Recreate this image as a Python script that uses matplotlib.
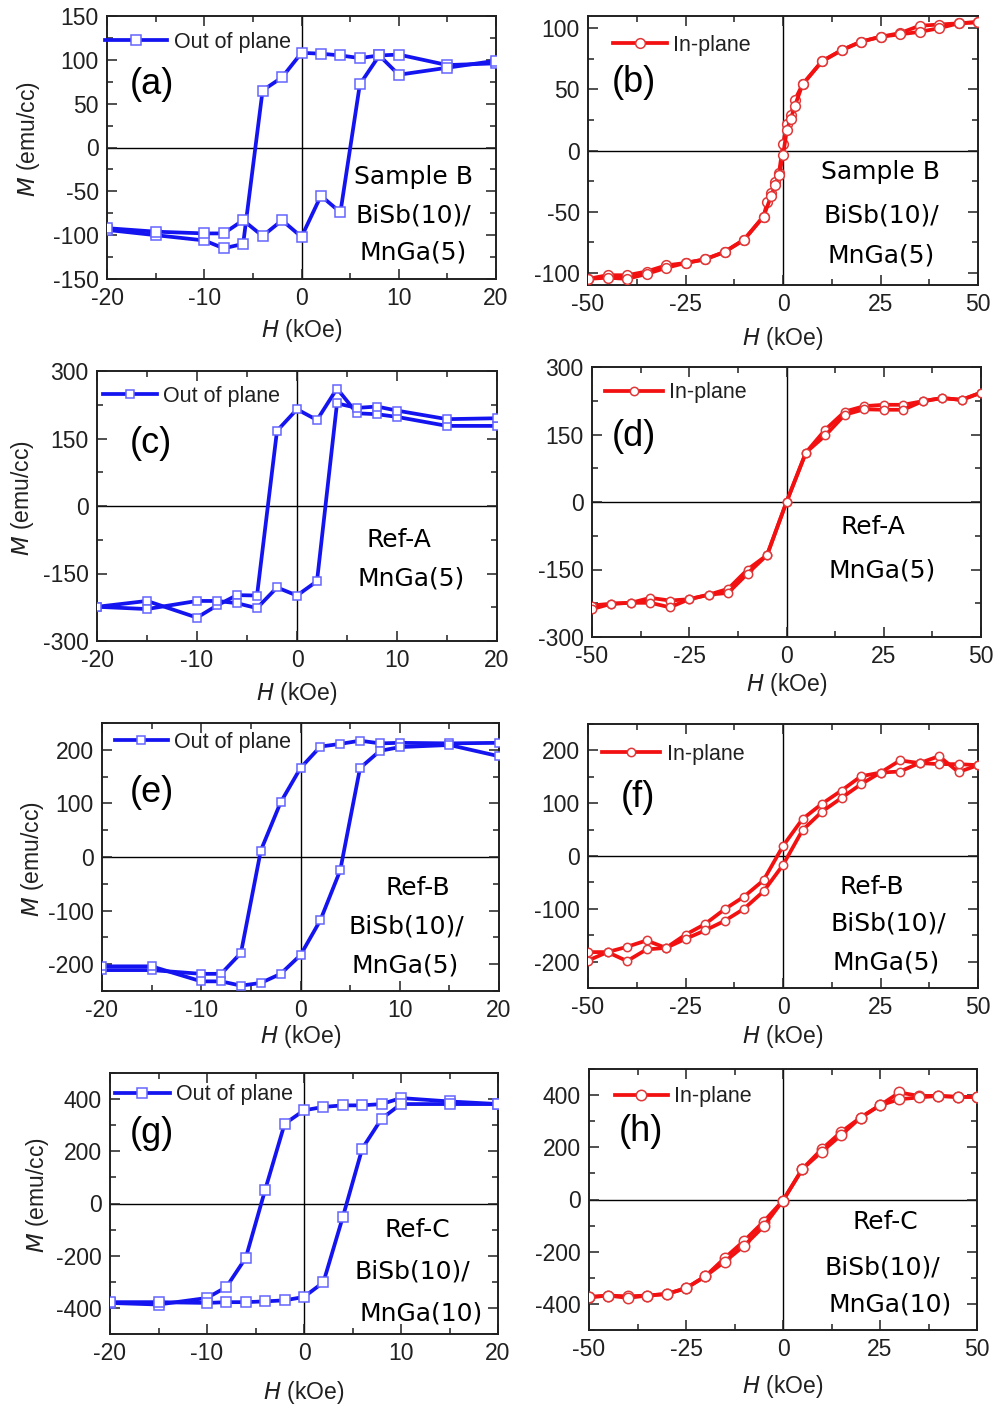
import matplotlib
matplotlib.use("Agg")
import matplotlib.pyplot as plt
from matplotlib.ticker import MultipleLocator

# ---------------- data ----------------
# (a) Sample B, out of plane
Ha_down = [20, 15, 10, 8, 6, 4, 2, 0, -2, -4, -6, -8, -10, -15, -20]
Ma_down = [96, 94, 106, 105, 102, 105, 107, 108, 80, 65, -110, -115, -106, -100, -94]
Ha_up = [-20, -15, -10, -8, -6, -4, -2, 0, 2, 4, 6, 8, 10, 15, 20]
Ma_up = [-92, -96, -98, -98, -83, -101, -83, -102, -55, -74, 72, 105, 83, 91, 99]

# (b) Sample B, in-plane
Hb_down = [50, 45, 40, 35, 30, 25, 20, 15, 10, 5, 3, 2, 1, 0, -1, -2, -3, -4, -5,
           -10, -15, -20, -25, -30, -35, -40, -45, -50]
Mb_down = [105, 104, 103, 102, 96, 93, 89, 82, 73, 54, 41, 29, 22, 5, -18, -26, -35, -42, -54,
           -73, -83, -89, -92, -94, -99, -102, -102, -105]
Hb_up = [-50, -45, -40, -35, -30, -25, -20, -15, -10, -5, -3, -2, -1, 0, 1, 2, 3, 5,
         10, 15, 20, 25, 30, 35, 40, 45, 50]
Mb_up = [-105, -104, -105, -101, -96, -92, -89, -83, -73, -54, -37, -28, -20, -4, 17, 26, 36, 54,
         73, 82, 89, 93, 95, 97, 100, 104, 105]

# (c) Ref-A, out of plane
Hc_down = [20, 15, 10, 8, 6, 4, 2, 0, -2, -4, -6, -8, -10, -15, -20]
Mc_down = [178, 178, 198, 204, 206, 261, 191, 215, 167, -199, -198, -221, -248, -211, -224]
Hc_up = [-20, -15, -10, -8, -6, -4, -2, 0, 2, 4, 6, 8, 10, 15, 20]
Mc_up = [-224, -229, -211, -211, -216, -227, -181, -199, -167, 228, 218, 221, 212, 193, 195]

# (d) Ref-A, in-plane
Hd_down = [50, 45, 40, 35, 30, 25, 20, 15, 10, 5, 0, -5, -10, -15, -20, -25, -30, -35, -40, -45, -50]
Md_down = [243, 227, 231, 224, 216, 216, 213, 201, 161, 110, 0, -118, -150, -193, -206, -216,
           -219, -213, -224, -226, -230]
Hd_up = [-50, -45, -40, -35, -30, -25, -20, -15, -10, -5, 0, 5, 10, 15, 20, 25, 30, 35, 40, 45, 50]
Md_up = [-238, -226, -224, -224, -234, -216, -206, -202, -159, -118, 0, 110, 148, 194, 206, 205,
         205, 224, 231, 227, 243]

# (e) Ref-B, out of plane
He_down = [20, 15, 10, 8, 6, 4, 2, 0, -2, -4, -6, -8, -10, -15, -20]
Me_down = [213, 212, 213, 212, 217, 211, 206, 166, 102, 12, -179, -218, -218, -211, -211]
He_up = [-20, -15, -10, -8, -6, -4, -2, 0, 2, 4, 6, 8, 10, 15, 20]
Me_up = [-204, -204, -232, -232, -240, -235, -218, -183, -118, -25, 166, 198, 205, 209, 188]

# (f) Ref-B, in-plane
Hf_down = [50, 45, 40, 35, 30, 25, 20, 15, 10, 5, 0, -5, -10, -15, -20, -25, -30, -35, -40, -45, -50]
Mf_down = [172, 159, 189, 176, 160, 158, 151, 124, 99, 70, 19, -46, -77, -101, -129, -149,
           -174, -160, -172, -182, -198]
Hf_up = [-50, -45, -40, -35, -30, -25, -20, -15, -10, -5, 0, 5, 10, 15, 20, 25, 30, 35, 40, 45, 50]
Mf_up = [-182, -182, -199, -177, -174, -157, -141, -123, -100, -67, -17, 49, 84, 110, 136, 158,
         181, 176, 174, 174, 172]

# (g) Ref-C, out of plane
Hg_down = [20, 15, 10, 8, 6, 4, 2, 0, -2, -4, -6, -8, -10, -15, -20]
Mg_down = [381, 391, 404, 381, 376, 376, 370, 357, 305, 53, -208, -320, -362, -387, -381]
Hg_up = [-20, -15, -10, -8, -6, -4, -2, 0, 2, 4, 6, 8, 10, 15, 20]
Mg_up = [-378, -378, -381, -378, -378, -375, -371, -358, -302, -52, 210, 325, 381, 381, 381]

# (h) Ref-C, in-plane
Hh_down = [50, 45, 40, 35, 30, 25, 20, 15, 10, 5, 0, -5, -10, -15, -20, -25, -30, -35, -40, -45, -50]
Mh_down = [393, 393, 397, 397, 410, 361, 314, 259, 193, 117, -4, -85, -158, -224, -294, -340,
           -362, -368, -371, -368, -374]
Hh_up = [-50, -45, -40, -35, -30, -25, -20, -15, -10, -5, 0, 5, 10, 15, 20, 25, 30, 35, 40, 45, 50]
Mh_up = [-374, -368, -377, -368, -362, -340, -294, -238, -177, -103, -4, 117, 183, 247, 314, 361,
         384, 391, 397, 393, 393]

panel_letters = ["(a)", "(b)", "(c)", "(d)", "(e)", "(f)", "(g)", "(h)"]
sample_texts = [
    ["Sample B", "BiSb(10)/", "MnGa(5)"],
    ["Sample B", "BiSb(10)/", "MnGa(5)"],
    ["Ref-A", "MnGa(5)"],
    ["Ref-A", "MnGa(5)"],
    ["Ref-B", "BiSb(10)/", "MnGa(5)"],
    ["Ref-B", "BiSb(10)/", "MnGa(5)"],
    ["Ref-C", "BiSb(10)/", "MnGa(10)"],
    ["Ref-C", "BiSb(10)/", "MnGa(10)"],
]
legend_labels = ["Out of plane", "In-plane"]

# ---------------- layout / style ----------------
W, Hpx = 996, 1408
fig = plt.figure(figsize=(W / 100, Hpx / 100), dpi=100)
plt.rcParams['font.family'] = ['Liberation Sans', 'DejaVu Sans']
plt.rcParams['axes.unicode_minus'] = False

boxes = [  # x0, x1, y0, y1 in pixels
    (107, 496, 16, 279), (588, 978, 16, 285),
    (97, 497, 371, 641), (592, 981, 367, 637),
    (102, 499, 723, 991), (588, 978, 724, 988),
    (110, 498, 1073, 1334), (589, 977, 1069, 1330),
]

panels = [
    dict(data=(Ha_down, Ma_down, Ha_up, Ma_up), xlim=20, ylim=150, ymaj=50, ymin=25, oop=True, ms=6.5),
    dict(data=(Hb_down, Mb_down, Hb_up, Mb_up), xlim=50, ylim=110, ymaj=50, ymin=25, oop=False, ms=7),
    dict(data=(Hc_down, Mc_down, Hc_up, Mc_up), xlim=20, ylim=300, ymaj=150, ymin=75, oop=True, ms=5.5),
    dict(data=(Hd_down, Md_down, Hd_up, Md_up), xlim=50, ylim=300, ymaj=150, ymin=75, oop=False, ms=6),
    dict(data=(He_down, Me_down, He_up, Me_up), xlim=20, ylim=250, ymaj=100, ymin=50, oop=True, ms=5.5),
    dict(data=(Hf_down, Mf_down, Hf_up, Mf_up), xlim=50, ylim=250, ymaj=100, ymin=50, oop=False, ms=6),
    dict(data=(Hg_down, Mg_down, Hg_up, Mg_up), xlim=20, ylim=500, ymaj=200, ymin=100, oop=True, ms=6.5),
    dict(data=(Hh_down, Mh_down, Hh_up, Mh_up), xlim=50, ylim=500, ymaj=200, ymin=100, oop=False, ms=7.5),
]

letter_pos = [(0.116, 0.738), (0.118, 0.751), (0.135, 0.73), (0.108, 0.741),
              (0.126, 0.739), (0.128, 0.723), (0.108, 0.77), (0.134, 0.759)]
legend_pos = [(-0.005, 0.901, 2.9), (0.064, 0.892, 2.5), (0.015, 0.907, 2.5), (0.033, 0.904, 2.7),
              (0.033, 0.929, 2.45), (0.036, 0.886, 2.7), (0.013, 0.916, 2.55), (0.067, 0.893, 2.45)]
text_pos = [
    [(0.787, 0.388), (0.787, 0.243), (0.787, 0.099)],
    [(0.751, 0.42), (0.751, 0.26), (0.751, 0.11)],
    [(0.755, 0.374), (0.785, 0.233)],
    [(0.722, 0.407), (0.746, 0.248)],
    [(0.796, 0.384), (0.766, 0.239), (0.763, 0.097)],
    [(0.728, 0.383), (0.769, 0.246), (0.764, 0.095)],
    [(0.791, 0.398), (0.778, 0.238), (0.802, 0.080)],
    [(0.763, 0.414), (0.755, 0.241), (0.776, 0.096)],
]
ylabel_pos = {0: (-0.203, 0.532), 2: (-0.185, 0.53), 4: (-0.174, 0.49), 6: (-0.188, 0.53)}
xlabel_off = [51, 53, 52, 48, 46, 49, 58, 57]

BLUE = '#1414f0'
BLUE_EDGE = '#6464ff'
RED = '#f21010'
RED_EDGE = '#e03838'

for i, (p, box) in enumerate(zip(panels, boxes)):
    x0, x1, y0, y1 = box
    ax = fig.add_axes([x0 / W, 1 - y1 / Hpx, (x1 - x0) / W, (y1 - y0) / Hpx])
    hd, md, hu, mu = p['data']
    if p['oop']:
        col, ecol, mk = BLUE, BLUE_EDGE, 's'
        lab = legend_labels[0]
    else:
        col, ecol, mk = RED, RED_EDGE, 'o'
        lab = legend_labels[1]
    ax.axhline(0, color='black', lw=1.0, zorder=1)
    ax.axvline(0, color='black', lw=1.0, zorder=1)
    kw = dict(color=col, lw=2.7, marker=mk, ms=p['ms'], mfc='white', mec=ecol, mew=1.1, zorder=3)
    l1, = ax.plot(hd, md, label=lab, **kw)
    ax.plot(hu, mu, **kw)

    ax.set_xlim(-p['xlim'], p['xlim'])
    ax.set_ylim(-p['ylim'], p['ylim'])
    if p['xlim'] == 20:
        ax.xaxis.set_major_locator(MultipleLocator(10))
        ax.xaxis.set_minor_locator(MultipleLocator(5))
    else:
        ax.xaxis.set_major_locator(MultipleLocator(25))
        ax.xaxis.set_minor_locator(MultipleLocator(12.5))
    ax.yaxis.set_major_locator(MultipleLocator(p['ymaj']))
    ax.yaxis.set_minor_locator(MultipleLocator(p['ymin']))
    ax.tick_params(which='both', direction='in', top=True, right=True, colors='#202020',
                   labelsize=16.5, width=1.1)
    ax.tick_params(which='major', length=7, pad=6)
    ax.tick_params(which='minor', length=4)
    for s in ax.spines.values():
        s.set_linewidth(1.4)
        s.set_color('#202020')

    # x label
    ax.set_xlabel(r'$\it{H}$ (kOe)', fontsize=16.5, color='#202020')
    h_ax = y1 - y0
    ax.xaxis.set_label_coords(0.5, -xlabel_off[i] / h_ax)
    ax.xaxis.label.set_va('center')
    if i in ylabel_pos:
        ax.set_ylabel(r'$\it{M}$ (emu/cc)', fontsize=16.5, color='#202020')
        ax.yaxis.set_label_coords(*ylabel_pos[i])
        ax.yaxis.label.set_va('center')

    # panel letter
    ax.text(letter_pos[i][0], letter_pos[i][1], panel_letters[i], transform=ax.transAxes,
            fontsize=26, ha='center', va='center', color='black')
    # legend
    lx, ly, hl = legend_pos[i]
    ax.legend(handles=[l1], loc='center left', bbox_to_anchor=(lx, ly), frameon=False,
              handlelength=hl, handletextpad=0.3, borderpad=0, borderaxespad=0,
              fontsize=15.5, numpoints=1, labelcolor='#202020')
    # sample text
    for t, (tx, ty) in zip(sample_texts[i], text_pos[i]):
        ax.text(tx, ty, t, transform=ax.transAxes, fontsize=18, ha='center', va='center',
                family=['DejaVu Sans'], color='black')

fig.savefig('out.png', dpi=100)
